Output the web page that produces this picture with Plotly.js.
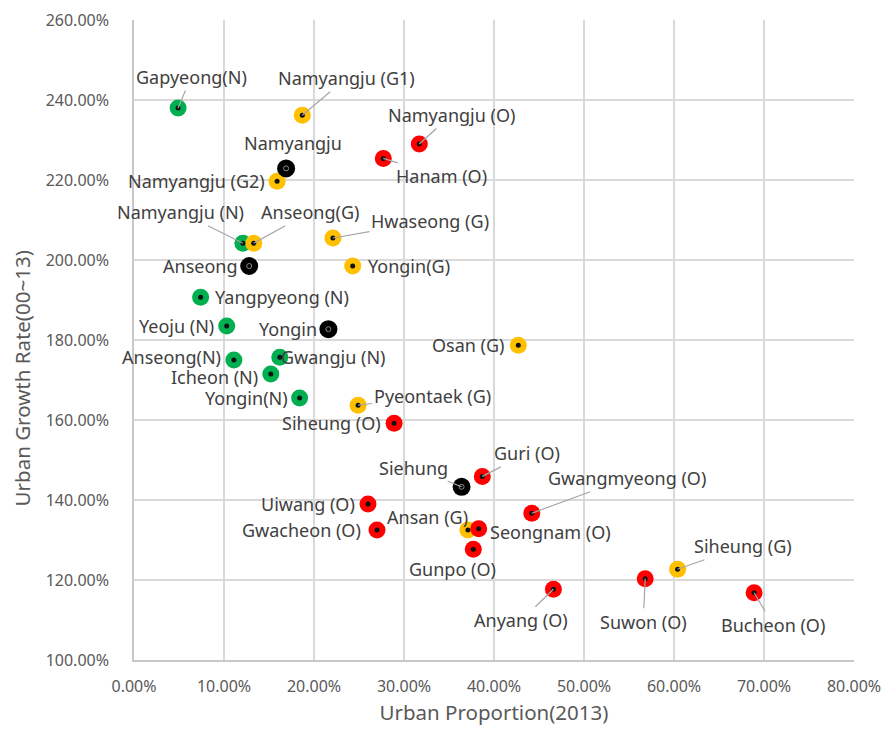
<!DOCTYPE html>
<html>
<head>
<meta charset="utf-8">
<script src="https://cdn.plot.ly/plotly-3.0.1.min.js"></script>
<style>html,body{margin:0;padding:0;background:#fff;}#chart{width:883px;height:731px;}</style>
</head>
<body>
<div id="chart"></div>
<script>
// ---- data ----
const names = ["Gapyeong(N)","Namyangju (G1)","Namyangju (O)","Hanam (O)","Namyangju","Namyangju (G2)",
  "Namyangju (N)","Anseong(G)","Hwaseong (G)","Anseong","Yongin(G)","Yangpyeong (N)","Yeoju (N)","Yongin",
  "Osan (G)","Anseong(N)","Gwangju (N)","Icheon (N)","Yongin(N)","Pyeontaek (G)","Siheung (O)","Siehung",
  "Guri (O)","Gwangmyeong (O)","Uiwang (O)","Gwacheon (O)","Ansan (G)","Seongnam (O)","Gunpo (O)",
  "Siheung (G)","Anyang (O)","Suwon (O)","Bucheon (O)"];
const urbanProportion = [4.9,18.7,31.7,27.7,16.9,15.9,12.1,13.3,22.1,12.8,24.3,7.4,10.3,21.6,
  42.7,11.1,16.2,15.2,18.4,24.9,28.9,36.4,38.7,44.2,26.0,27.0,37.1,38.3,37.7,60.4,46.6,56.8,68.9];
const urbanGrowth = [238.0,236.2,229.0,225.4,222.9,219.7,204.2,204.2,205.5,198.5,198.5,190.7,183.5,182.7,
  178.7,175.0,175.7,171.5,165.5,163.7,159.2,143.3,145.9,136.7,139.0,132.5,132.5,132.8,127.7,122.7,117.7,120.3,116.8];
const group = ["N","G","O","O","T","G","N","G","G","T","G","N","N","T",
  "G","N","N","N","N","G","O","T","O","O","O","O","G","O","O","G","O","O","O"];
const yTicks = [100,120,140,160,180,200,220,240,260];
const xTicks = [0,10,20,30,40,50,60,70,80];

// ---- label placement (pixel offsets) and leader flags ----
const labelDX = [13,44,32,58,7,-81,-62,56,97,-49,56,81,-50,-40,-50,-62,53,-56,-53,74,-63,-48,45,95,-60,-76,-40,72,-21,65,-32,-2,19];
const labelDY = [-31,-37,-29,18,-25,0,-31,-31,-17,0,0,0,0,0,0,-3,0,3,0,-9,0,-19,-23,-35,0,0,-13,3,20,-23,31,43,32];
const leader  = [1,1,1,1,0,0,1,1,1,0,0,0,0,0,0,0,0,0,0,1,0,1,1,1,0,0,0,0,0,1,1,1,1];

const colors = {N:"#00B050", G:"#FFC000", O:"#FF0000", T:"#000000"};
const order = ["N","G","O","T"];

const traces = [];
order.forEach(g => {
  const idx = group.map((v,i)=>v===g?i:-1).filter(i=>i>=0);
  traces.push({
    type:"scatter", mode:"markers", name:g,
    x: idx.map(i=>urbanProportion[i]), y: idx.map(i=>urbanGrowth[i]),
    marker:{size:g==="T"?18:17, color:colors[g], line:{width:0}},
    hoverinfo:"skip", showlegend:false
  });
});
// centre dots
const nonT = group.map((v,i)=>v!=="T"?i:-1).filter(i=>i>=0);
traces.push({type:"scatter", mode:"markers", x:nonT.map(i=>urbanProportion[i]), y:nonT.map(i=>urbanGrowth[i]),
  marker:{size:5, color:"#111"}, hoverinfo:"skip", showlegend:false});
const tIdx = group.map((v,i)=>v==="T"?i:-1).filter(i=>i>=0);
traces.push({type:"scatter", mode:"markers", x:tIdx.map(i=>urbanProportion[i]), y:tIdx.map(i=>urbanGrowth[i]),
  marker:{size:5, symbol:"circle-open", color:"#8a8a8a", line:{width:1, color:"#8a8a8a"}}, hoverinfo:"skip", showlegend:false});

const annotations = names.map((n,i)=>({
  x: urbanProportion[i], y: urbanGrowth[i], xref:"x", yref:"y",
  text: n, showarrow:true, axref:"pixel", ayref:"pixel",
  ax: labelDX[i], ay: labelDY[i],
  arrowhead:0, arrowwidth:1.2, standoff:0,
  arrowcolor: leader[i] ? "#a6a6a6" : "rgba(0,0,0,0)",
  font:{family:"Noto Sans, sans-serif", size:18, color:"#404040"}
}));
// y axis title (placed as rotated text, offset like the reference)
annotations.push({
  xref:"paper", yref:"paper", x:0, y:0.44, xanchor:"center", yanchor:"middle",
  xshift:-112, showarrow:false, textangle:-90,
  text:"Urban Growth Rate(00~13)",
  font:{family:"Noto Sans, sans-serif", size:20.5, color:"#595959"}
});

const layout = {
  width:883, height:731,
  margin:{l:134, r:29, t:20, b:71},
  paper_bgcolor:"#fff", plot_bgcolor:"#fff",
  font:{family:"Noto Sans, sans-serif", color:"#595959"},
  xaxis:{range:[0,80], tickvals:xTicks, ticktext:xTicks.map(v=>v.toFixed(2)+"%"),
    showgrid:true, gridcolor:"#d9d9d9", gridwidth:1.8, zeroline:false,
    showline:true, linecolor:"#c8c8c8", linewidth:1.8, mirror:false,
    ticks:"", ticklabelstandoff:11, tickfont:{size:16, color:"#595959"},
    title:{text:"Urban Proportion(2013)", font:{size:20.5, color:"#595959"}, standoff:10}},
  yaxis:{range:[100,260], tickvals:yTicks, ticktext:yTicks.map(v=>v.toFixed(2)+"%"),
    showgrid:true, gridcolor:"#d9d9d9", gridwidth:1.8, zeroline:false,
    showline:true, linecolor:"#c8c8c8", linewidth:1.8,
    ticks:"", ticklabelstandoff:20, tickfont:{size:16, color:"#595959"}},
  annotations: annotations,
  showlegend:false
};

Plotly.newPlot("chart", traces, layout, {staticPlot:true});
</script>
</body>
</html>
